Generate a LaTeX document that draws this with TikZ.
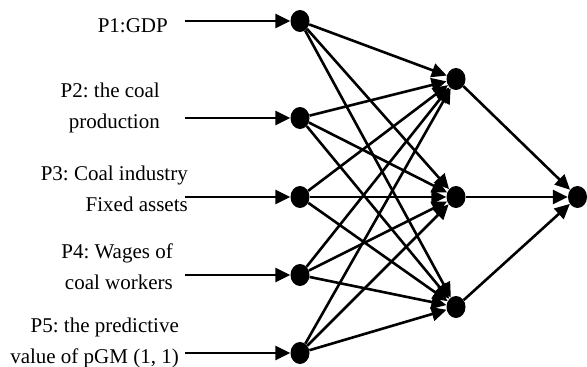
\documentclass[tikz,border=0pt]{standalone}
\usepackage{fontspec}
\setmainfont{Liberation Serif}
\usetikzlibrary{shapes.geometric,arrows.meta}

\begin{document}
\frenchspacing
\begin{tikzpicture}[x=1pt,y=-1pt,
		neuron/.style={ellipse, fill=black, inner sep=0pt, minimum width=19pt, minimum height=22pt},
		link/.style={line width=2.6pt, -{Triangle[length=15pt,width=14pt]}},
		lbl/.style={align=right, inner sep=0pt, font=\fontsize{21}{31}\selectfont}]
		\useasboundingbox (0,0) rectangle (587,367);
		% input layer
		\node[neuron] (p1) at (300,21) {};
		\node[neuron] (p2) at (300,118) {};
		\node[neuron] (p3) at (300,197) {};
		\node[neuron] (p4) at (300,275) {};
		\node[neuron] (p5) at (300,353) {};
		% hidden layer
		\node[neuron] (h1) at (456,79) {};
		\node[neuron] (h2) at (456,197) {};
		\node[neuron] (h3) at (456,307) {};
		% output
		\node[neuron] (o) at (577.5,197) {};
		% labels and arrow tails
		\node[lbl, anchor=north east] (l1) at (168,18.8) {P1:GDP};
		\node[lbl, anchor=north east] (l2) at (160,82.7) {P2: the coal\\production};
		\node[lbl, anchor=north east] (l3) at (188,165.7) {P3: Coal industry\\Fixed assets};
		\node[lbl, anchor=north east] (l4) at (173,243.7) {P4: Wages of\\coal workers};
		\node[lbl, anchor=north east] (l5) at (179,317.7) {P5: the predictive\\value of pGM (1, 1)};
		\coordinate (s1) at (185,21);
		\coordinate (s2) at (185,118);
		\coordinate (s3) at (185,197);
		\coordinate (s4) at (185,275);
		\coordinate (s5) at (185,353);
		\draw[link] (s1) -- (p1);
		\draw[link] (s2) -- (p2);
		\draw[link] (s3) -- (p3);
		\draw[link] (s4) -- (p4);
		\draw[link] (s5) -- (p5);
		% input -> hidden
		\draw[link] (p1) -- (h1);
		\draw[link] (p1) -- (h2);
		\draw[link] (p1) -- (h3);
		\draw[link] (p2) -- (h1);
		\draw[link] (p2) -- (h2);
		\draw[link] (p2) -- (h3);
		\draw[link] (p3) -- (h1);
		\draw[link] (p3) -- (h2);
		\draw[link] (p3) -- (h3);
		\draw[link] (p4) -- (h1);
		\draw[link] (p4) -- (h2);
		\draw[link] (p4) -- (h3);
		\draw[link] (p5) -- (h1);
		\draw[link] (p5) -- (h2);
		\draw[link] (p5) -- (h3);
		% hidden -> output
		\draw[link] (h1) -- (o);
		\draw[link] (h2) -- (o);
		\draw[link] (h3) -- (o);
	\end{tikzpicture}
\end{document}
